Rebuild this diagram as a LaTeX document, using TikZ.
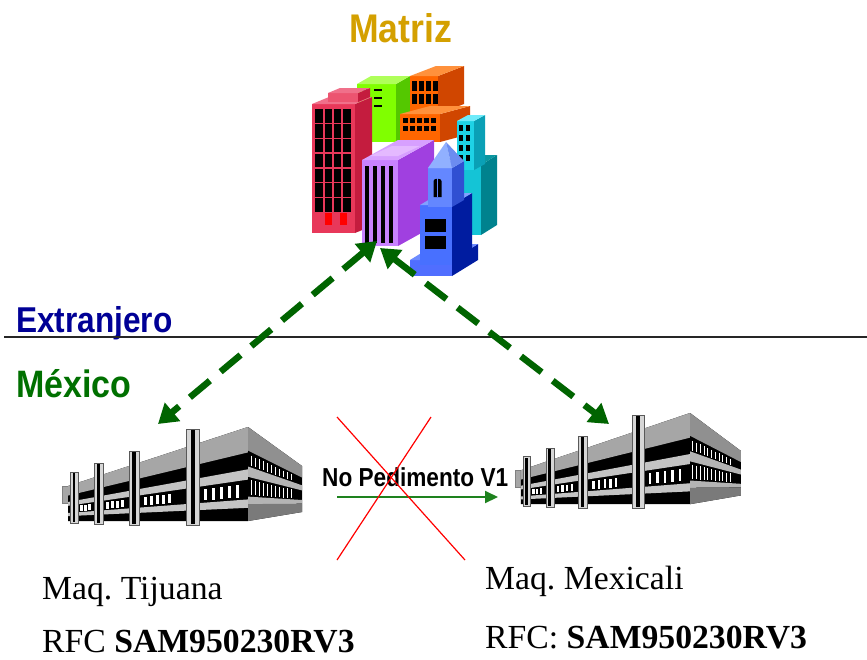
\documentclass[tikz,border=0pt]{standalone}
\usepackage{fontspec}
\setmainfont{Liberation Serif}
\newfontfamily\arialf{Liberation Sans}
\usetikzlibrary{arrows.meta}
\frenchspacing
\definecolor{gold}{RGB}{212,160,0}
\definecolor{navyx}{RGB}{0,0,150}
\definecolor{mexgreen}{RGB}{0,112,0}
\definecolor{arrowgreen}{RGB}{0,100,0}
\definecolor{solidgreen}{RGB}{30,130,30}
\definecolor{rdF}{RGB}{232,56,90}\definecolor{rdS}{RGB}{196,28,62}\definecolor{rdT}{RGB}{240,112,138}\definecolor{rdB}{RGB}{236,84,112}
\definecolor{grF}{RGB}{128,255,0}\definecolor{grS}{RGB}{84,200,0}\definecolor{grT}{RGB}{175,255,90}
\definecolor{orF}{RGB}{255,102,0}\definecolor{orS}{RGB}{208,70,0}\definecolor{orT}{RGB}{255,145,60}
\definecolor{cyF}{RGB}{30,210,230}\definecolor{cyS}{RGB}{10,160,182}\definecolor{cyT}{RGB}{110,235,250}
\definecolor{cyF2}{RGB}{20,196,214}\definecolor{cyS2}{RGB}{0,130,142}\definecolor{cyT2}{RGB}{10,150,160}
\definecolor{puF}{RGB}{200,130,255}\definecolor{puS}{RGB}{160,64,224}\definecolor{puT}{RGB}{215,160,255}\definecolor{puT2}{RGB}{228,185,255}
\definecolor{blF}{RGB}{72,112,255}\definecolor{blD}{RGB}{0,28,160}\definecolor{blT}{RGB}{130,160,255}
\definecolor{blF2}{RGB}{100,135,255}\definecolor{blD2}{RGB}{48,80,210}
\definecolor{blSl}{RGB}{80,110,255}\definecolor{blSlT}{RGB}{110,140,255}
\definecolor{spL}{RGB}{145,176,255}\definecolor{spR}{RGB}{108,140,240}
\definecolor{fgA}{RGB}{166,166,166}\definecolor{fgB}{RGB}{196,196,196}\definecolor{fgC}{RGB}{144,144,144}
\definecolor{fgD}{RGB}{180,180,180}\definecolor{fgE}{RGB}{122,122,122}\definecolor{pilgray}{RGB}{214,214,214}

\newcommand\cityblock[9]{%
 \fill[#7] (#1,#2) rectangle (#3,#4);
 \fill[#8] (#3,#2) -- ++(#5,-#6) -- ++(0,#4-#2) -- (#3,#4) -- cycle;
 \fill[#9] (#1,#2) -- ++(#5,-#6) -- ++(#3-#1,0) -- (#3,#2) -- cycle;
}
\newcommand\pillar[4]{%
 \fill[pilgray] ({#1-#4},#2) rectangle ({#1+#4},#3);
 \fill[black] ({#1-0.35*#4},{#2+1}) rectangle ({#1+0.3*#4},{#3-1});
 \draw[gray!70!black, line width=0.4pt] ({#1-#4},#2) rectangle ({#1+#4},#3);
}
\newcommand\factorydraw{%
 % left stub
 \fill[fgA] (62,486) rectangle (70,503);
 \draw[gray, line width=0.4pt] (62,486) rectangle (70,503);
 % front face
 \fill[black] (68,486) -- (248,427) -- (248,521) -- (68,521) -- cycle;
 \fill[fgA] (68,486) -- (248,427) -- (248,452.4) -- (68,495.6) -- cycle;
 \fill[fgB] (68,502) -- (248,469.3) -- (248,479.6) -- (68,505.8) -- cycle;
 \fill[fgB] (68,513) -- (248,499.4) -- (248,507.8) -- (68,516.1) -- cycle;
 \foreach \x in {80,84,88,106,111,116,121,144,150,156,162,168,204,212,220,228,236}{
  \pgfmathsetmacro\ta{487-(\x-65)*0.32787}
  \pgfmathsetmacro\ya{\ta+0.60*(521-\ta)}
  \pgfmathsetmacro\yb{\ta+0.74*(521-\ta)}
  \fill[white] (\x,\ya) rectangle ({\x+2.6},\yb);
 }
 % right face
 \fill[black] (248,427) -- (302,466) -- (302,512) -- (248,521) -- cycle;
 \fill[fgC] (248,427) -- (302,466) -- (302,477.5) -- (248,450.5) -- cycle;
 \fill[fgD] (248,466.5) -- (302,485.3) -- (302,490.4) -- (248,476.8) -- cycle;
 \fill[fgD] (248,496.6) -- (302,500) -- (302,503.7) -- (248,504.1) -- cycle;
 \fill[fgE] (248,504.1) -- (302,503.7) -- (302,512) -- (248,521) -- cycle;
 \foreach \x in {251,255,...,291}{
  \pgfmathsetmacro\ta{427+(\x-248)*0.7222}
  \pgfmathsetmacro\hb{521-(\x-248)*0.16667-\ta}
  \draw[white, line width=1pt] (\x,{\ta+0.29*\hb}) -- (\x,{\ta+0.40*\hb});
  \draw[white, line width=1pt] (\x,{\ta+0.56*\hb}) -- (\x,{\ta+0.72*\hb});
 }
 % pillars
 \pillar{74}{472}{523}{4}
 \pillar{99}{463}{524}{4.5}
 \pillar{134}{451}{525}{5}
 \pillar{193}{429}{525}{6.5}
}

\tikzset{
 dasharrow/.style={draw=arrowgreen, line width=6.5pt, dash pattern=on 26pt off 14pt,
   arrows={Triangle[length=19pt,width=23pt]-Triangle[length=19pt,width=23pt]}},
 sanslabel/.style={inner sep=0pt, anchor=base west},
 seriflabel/.style={inner sep=0pt, anchor=base west, font=\fontsize{33.7}{40}\selectfont},
}

\begin{document}
\begin{tikzpicture}[x=1pt,y=-1pt]
\useasboundingbox (0,0) rectangle (867,659);
\fill[white] (0,0) rectangle (867,659);

% ---------- titles ----------
\node[sanslabel, xscale=0.89, text=gold, font=\arialf\bfseries\fontsize{40}{44}\selectfont] (matriz) at (349,42) {Matriz};
\node[sanslabel, xscale=0.88, text=navyx, font=\arialf\bfseries\fontsize{35.9}{40}\selectfont] (extranjero) at (16,332) {Extranjero};
\node[sanslabel, xscale=0.89, text=mexgreen, font=\arialf\bfseries\fontsize{38.2}{42}\selectfont] (mexico) at (16,397) {México};

% ---------- border line ----------
\coordinate (hl) at (4,337);
\coordinate (hr) at (867,337);
\draw[gray!30!black, line width=1.4pt] (hl) -- (hr);

% ---------- city (Matriz) ----------
% green
\cityblock{357}{84}{396}{142}{14}{8}{grF}{grS}{grT}
\foreach \yy in {89,97,105}{\fill[black] (360,\yy) rectangle (368,\yy+2); \fill[black] (374,\yy) rectangle (382,\yy+2);}
% orange
\cityblock{410}{76}{438}{114}{26}{10}{orF}{orS}{orT}
\foreach \xx in {412,419,426,433}{\fill[black] (\xx,81) rectangle (\xx+4.5,91); \fill[black] (\xx,94) rectangle (\xx+4.5,104);}
\cityblock{400}{114}{440}{142}{30}{8}{orF}{orS}{orT}
\foreach \xx in {403,410,417,424,431}{\fill[black] (\xx,118) rectangle (\xx+5,123); \fill[black] (\xx,126) rectangle (\xx+5,131);}
% cyan
\cityblock{460}{165}{481}{235}{16}{10}{cyF2}{cyS2}{cyT2}
\cityblock{457}{121}{474}{170}{11}{6}{cyF}{cyS}{cyT}
\foreach \yy in {125,135,145,155}{\fill[black] (459,\yy) rectangle (463,\yy+6); \fill[black] (466,\yy) rectangle (470,\yy+6);}
% red
\cityblock{312}{104}{355}{233}{17}{7}{rdF}{rdS}{rdT}
\cityblock{328}{93}{358}{102}{12}{5}{rdB}{rdS}{rdT}
\fill[black] (315,109) rectangle (351,212);
\foreach \xx in {324,333,342}{\draw[rdF, line width=1.4pt] (\xx,109) -- (\xx,212);}
\foreach \yy in {123.7,138.4,153.1,167.9,182.6,197.3}{\draw[rdF, line width=1.4pt] (315,\yy) -- (351,\yy);}
\fill[red] (325,213) rectangle (332,225);
\fill[red] (340,213) rectangle (347,225);
% purple
\cityblock{362}{160}{398}{246}{36}{20}{puF}{puS}{puT}
\fill[puT2] (370,156) -- (392,146) -- (420,146) -- (398,156) -- cycle;
\foreach \xx in {364.5,372.5,380.5,388.5}{\fill[black] (\xx,166) rectangle (\xx+4.5,243);}
% blue
\cityblock{410}{260}{452}{276}{26}{16}{blSl}{blD}{blSlT}
\cityblock{420}{205}{452}{265}{20}{12}{blF}{blD}{blT}
\fill[black] (425,219) rectangle (446,232);
\fill[black] (425,236) rectangle (446,249);
\cityblock{428}{168}{452}{207}{12}{7}{blF2}{blD2}{blT}
\fill[black] (433.5,197) -- (433.5,181) to[out=90,in=90] (441.5,181) -- (441.5,197) -- cycle;
\draw[blF2, line width=0.8pt] (437.5,178) -- (437.5,197);
\fill[spL] (428,168) -- (446,142) -- (452,168) -- cycle;
\fill[spR] (452,168) -- (446,142) -- (464,161) -- cycle;

% ---------- factories ----------
\begin{scope}
 \factorydraw
\end{scope}
\begin{scope}[shift={(456.9,-1.19)}, xscale=0.94, yscale=0.97]
 \factorydraw
\end{scope}

% ---------- dashed links ----------
\coordinate (cityL) at (377,241);
\coordinate (cityR) at (380,248);
\coordinate (tijTop) at (158,424);
\coordinate (mexTop) at (609,424);
\draw[dasharrow] (cityL) -- (tijTop);
\draw[dasharrow] (cityR) -- (mexTop);

% ---------- crossed out flow ----------
\node[sanslabel, xscale=0.87, font=\arialf\bfseries\fontsize{26}{30}\selectfont] (nopedimento) at (322,486) {No Pedimento V1};
\coordinate (npA) at (337,497);
\coordinate (npB) at (498,497);
\draw[solidgreen, line width=2pt, -{Triangle[length=13pt,width=12pt]}] (npA) -- (npB);
\coordinate (xa1) at (337,417);
\coordinate (xa2) at (465,560);
\coordinate (xb1) at (431,417);
\coordinate (xb2) at (337,560);
\draw[red, line width=1.2pt] (xa1) -- (xa2);
\draw[red, line width=1.2pt] (xb1) -- (xb2);

% ---------- labels ----------
\node[seriflabel] (tijuana) at (42,599) {Maq. Tijuana};
\node[seriflabel] (rfcl) at (42,652) {RFC \textbf{SAM950230RV3}};
\node[seriflabel] (mexicali) at (485,589) {Maq. Mexicali};
\node[seriflabel] (rfcr) at (485,648) {RFC: \textbf{SAM950230RV3}};
\end{tikzpicture}
\end{document}
